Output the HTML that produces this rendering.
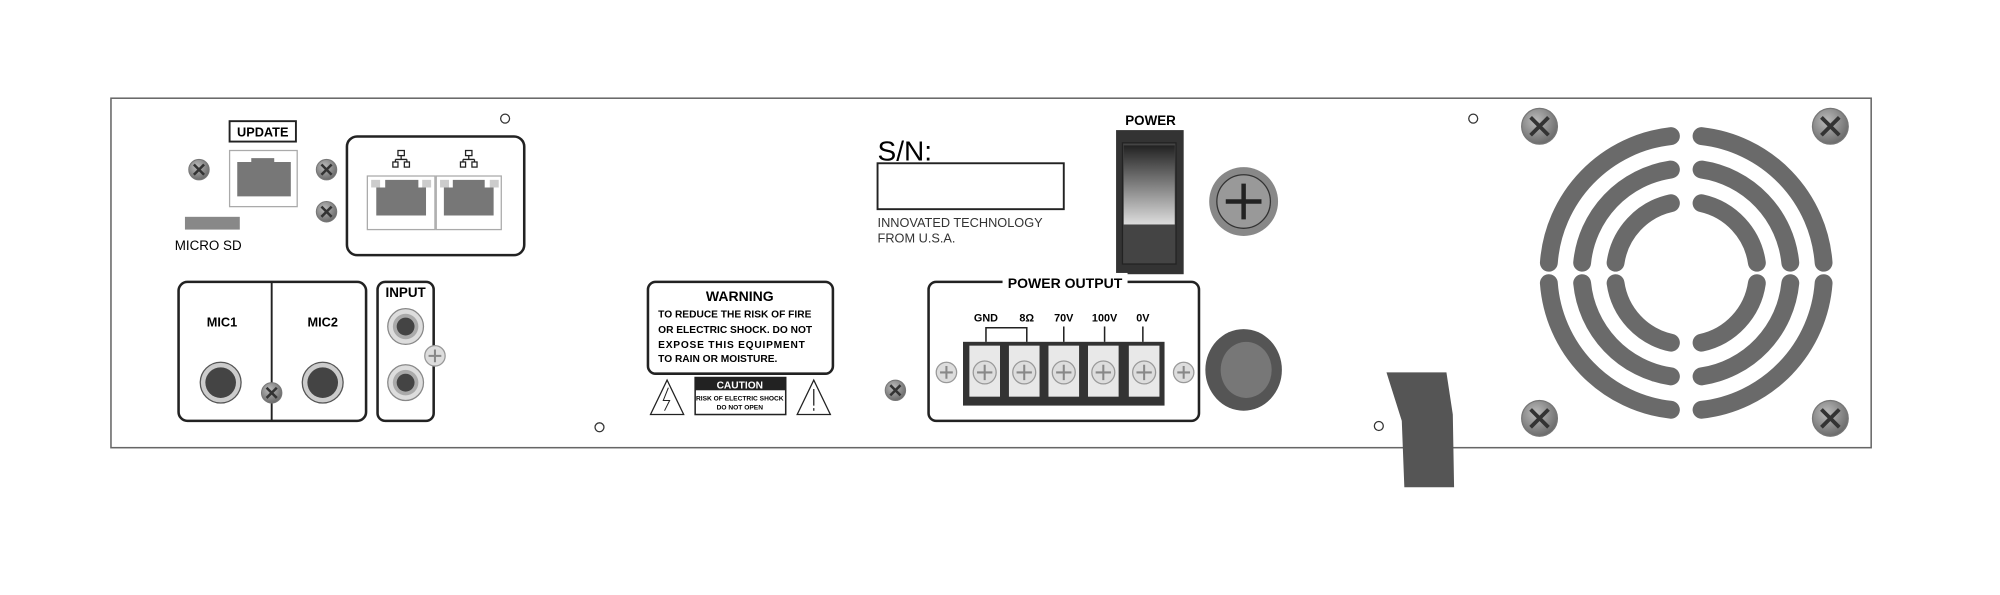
<!DOCTYPE html>
<html><head><meta charset="utf-8"><style>
html,body{margin:0;padding:0;background:#fff;}
svg{display:block;}
text{font-family:"Liberation Sans",sans-serif;}
</style></head><body>
<svg width="2000" height="595" viewBox="0 0 1568 466.5" preserveAspectRatio="none" xmlns="http://www.w3.org/2000/svg">
<defs>
<radialGradient id="sg" cx="40%" cy="35%" r="70%"><stop offset="0" stop-color="#bbb"/><stop offset="1" stop-color="#666"/></radialGradient>
<linearGradient id="sw" x1="0" y1="0" x2="0" y2="1"><stop offset="0" stop-color="#222"/><stop offset="1" stop-color="#ddd"/></linearGradient>
<g id="scr"><circle r="8" fill="url(#sg)" stroke="#777" stroke-width="0.8"/><path d="M-4,-4L4,4M4,-4L-4,4" stroke="#333" stroke-width="2"/></g>
<g id="bscr"><circle r="14" fill="url(#sg)" stroke="#777"/><path d="M-7,-7L7,7M7,-7L-7,7" stroke="#333" stroke-width="3"/></g>
<g id="pscr"><circle r="8" fill="#ddd" stroke="#999"/><path d="M-5,0H5M0,-5V5" stroke="#888" stroke-width="1.6"/></g>
<g id="term"><rect x="-12" y="-21" width="24" height="40" fill="#e8e8e8"/><circle r="9" fill="#ddd" stroke="#999"/><path d="M-6,0H6M0,-6V6" stroke="#888" stroke-width="1.6"/></g>
</defs>
<rect x="87" y="77" width="1380" height="274" fill="#fff" stroke="#666" stroke-width="1.2"/>

<!-- update -->
<rect x="180" y="95" width="52" height="16" fill="#fff" stroke="#222" stroke-width="1.5"/>
<text x="206" y="107" font-size="10" font-weight="bold" text-anchor="middle">UPDATE</text>
<rect x="180" y="118" width="53" height="44" fill="#fff" stroke="#aaa"/>
<path d="M186,127H197V124H215V127H228V154H186Z" fill="#777"/>
<use href="#scr" x="156" y="133"/><use href="#scr" x="256" y="133"/><use href="#scr" x="256" y="166"/>
<rect x="145" y="170" width="43" height="10" fill="#888"/>
<text x="137" y="196" font-size="10.5">MICRO SD</text>
<circle cx="396" cy="93" r="3.5" fill="none" stroke="#333"/>

<!-- network -->
<rect x="272" y="107" width="139" height="93" rx="8" fill="#fff" stroke="#222" stroke-width="2"/>
<rect x="288" y="138" width="53" height="42" fill="#fff" stroke="#aaa"/>
<rect x="342" y="138" width="51" height="42" fill="#fff" stroke="#aaa"/>
<path d="M295,147H302V141H328V147H334V169H295Z" fill="#777"/>
<path d="M348,147H355V141H380V147H387V169H348Z" fill="#777"/>
<rect x="291" y="141" width="7" height="6" fill="#ccc"/><rect x="331" y="141" width="7" height="6" fill="#ccc"/>
<rect x="345" y="141" width="7" height="6" fill="#ccc"/><rect x="384" y="141" width="7" height="6" fill="#ccc"/>
<g fill="none" stroke="#222" stroke-width="1"><rect x="312" y="118" width="5" height="4"/><path d="M314.5,122V125M310,125H319M310,125V127M319,125V127"/><rect x="308" y="127" width="4" height="4"/><rect x="317" y="127" width="4" height="4"/></g>
<g fill="none" stroke="#222" stroke-width="1" transform="translate(53,0)"><rect x="312" y="118" width="5" height="4"/><path d="M314.5,122V125M310,125H319M310,125V127M319,125V127"/><rect x="308" y="127" width="4" height="4"/><rect x="317" y="127" width="4" height="4"/></g>

<!-- mic -->
<rect x="140" y="221" width="147" height="109" rx="7" fill="#fff" stroke="#222" stroke-width="2"/>
<line x1="213" y1="221" x2="213" y2="330" stroke="#222" stroke-width="1.5"/>
<text x="174" y="256" font-size="10" font-weight="bold" text-anchor="middle">MIC1</text>
<text x="253" y="256" font-size="10" font-weight="bold" text-anchor="middle">MIC2</text>
<circle cx="173" cy="300" r="16" fill="#ccc" stroke="#555"/><circle cx="173" cy="300" r="12" fill="#444"/>
<circle cx="253" cy="300" r="16" fill="#ccc" stroke="#555"/><circle cx="253" cy="300" r="12" fill="#444"/>
<use href="#scr" x="213" y="308"/>

<!-- input -->
<rect x="296" y="221" width="44" height="109" rx="6" fill="#fff" stroke="#222" stroke-width="2"/>
<text x="318" y="233" font-size="10.5" font-weight="bold" text-anchor="middle">INPUT</text>
<circle cx="318" cy="256" r="14" fill="#ddd" stroke="#888"/><circle cx="318" cy="256" r="10" fill="#aaa"/><circle cx="318" cy="256" r="7" fill="#444"/>
<circle cx="318" cy="300" r="14" fill="#ddd" stroke="#888"/><circle cx="318" cy="300" r="10" fill="#aaa"/><circle cx="318" cy="300" r="7" fill="#444"/>
<use href="#pscr" x="341" y="279" transform="scale(1)"/>
<circle cx="470" cy="335" r="3.5" fill="none" stroke="#333"/>

<!-- warning -->
<rect x="508" y="221" width="145" height="72" rx="6" fill="#fff" stroke="#222" stroke-width="2"/>
<text x="580" y="236" font-size="11" font-weight="bold" text-anchor="middle">WARNING</text>
<g font-size="8" font-weight="bold"><text x="516" y="249">TO REDUCE THE RISK OF FIRE</text><text x="516" y="261">OR ELECTRIC SHOCK.  DO NOT</text><text x="516" y="273" letter-spacing="0.6">EXPOSE THIS  EQUIPMENT</text><text x="516" y="284">TO RAIN OR MOISTURE.</text></g>
<path d="M523,298L510,325H536Z" fill="#fff" stroke="#222"/><path d="M524,304L520,314H525L521,322" fill="none" stroke="#222" stroke-width="0.8"/>
<rect x="545" y="296" width="71" height="29" fill="#fff" stroke="#222" stroke-width="1.2"/>
<rect x="545" y="296" width="71" height="10" fill="#222"/>
<text x="580" y="304.5" font-size="8" font-weight="bold" fill="#fff" text-anchor="middle">CAUTION</text>
<text x="580" y="314" font-size="5.2" font-weight="bold" text-anchor="middle">RISK OF ELECTRIC SHOCK</text>
<text x="580" y="321" font-size="5.2" font-weight="bold" text-anchor="middle">DO NOT OPEN</text>
<path d="M638,298L625,325H651Z" fill="#fff" stroke="#222"/><path d="M638,305V318M638,320V322" stroke="#222"/>
<use href="#scr" x="702" y="306"/>

<!-- S/N -->
<text x="688" y="126" font-size="22">S/N:</text>
<rect x="688" y="128" width="146" height="36" fill="#fff" stroke="#222" stroke-width="1.5"/>
<text x="688" y="178" font-size="10" fill="#333">INNOVATED TECHNOLOGY</text>
<text x="688" y="190" font-size="10" fill="#333">FROM U.S.A.</text>

<!-- power switch -->
<text x="902" y="98" font-size="10.5" font-weight="bold" text-anchor="middle">POWER</text>
<rect x="875" y="102" width="53" height="113" fill="#333"/>
<rect x="880" y="112" width="42" height="95" fill="#444" stroke="#222"/>
<rect x="881" y="114" width="40" height="62" fill="url(#sw)"/>
<circle cx="975" cy="158" r="27" fill="#888"/><circle cx="975" cy="158" r="21" fill="#999" stroke="#333" stroke-width="1"/>
<path d="M961,158H989M975,144V172" stroke="#222" stroke-width="3.5"/>

<!-- power output -->
<rect x="728" y="221" width="212" height="109" rx="6" fill="#fff" stroke="#222" stroke-width="2"/>
<rect x="786" y="214" width="98" height="14" fill="#fff"/>
<text x="835" y="226" font-size="11" font-weight="bold" text-anchor="middle">POWER OUTPUT</text>
<g font-size="8.5" font-weight="bold" text-anchor="middle"><text x="773" y="252">GND</text><text x="805" y="252">8Ω</text><text x="834" y="252">70V</text><text x="866" y="252">100V</text><text x="896" y="252">0V</text></g>
<path d="M773,268V257H805V268M834,256V268M866,256V268M896,256V268" fill="none" stroke="#222" stroke-width="1.2"/>
<rect x="755" y="268" width="158" height="50" fill="#333"/>
<use href="#term" x="772" y="292"/><use href="#term" x="803" y="292"/><use href="#term" x="834" y="292"/><use href="#term" x="865" y="292"/><use href="#term" x="897" y="292"/>
<use href="#pscr" x="742" y="292"/><use href="#pscr" x="928" y="292"/>
<ellipse cx="975" cy="290" rx="30" ry="32" fill="#555"/><ellipse cx="977" cy="290" rx="20" ry="22" fill="#777"/>

<circle cx="1155" cy="93" r="3.5" fill="none" stroke="#333"/>
<circle cx="1081" cy="334" r="3.5" fill="none" stroke="#333"/>
<path d="M1087,292H1134L1139,325L1140,382H1101L1099,330Z" fill="#555"/>

<!-- fan -->
<use href="#bscr" x="1207" y="99"/><use href="#bscr" x="1435" y="99"/><use href="#bscr" x="1207" y="328"/><use href="#bscr" x="1435" y="328"/>
<g fill="none" stroke="#6a6a6a" stroke-width="14" stroke-linecap="round">
<path d="M1310,106.7A108,108 0 0 0 1214.3,206"/><path d="M1334,106.7A108,108 0 0 1 1429.7,206"/>
<path d="M1214.3,222A108,108 0 0 0 1310,321.3"/><path d="M1334,321.3A108,108 0 0 0 1429.7,222"/>
<path d="M1310,132.9A82,82 0 0 0 1240.4,206"/><path d="M1334,132.9A82,82 0 0 1 1403.6,206"/>
<path d="M1240.4,222A82,82 0 0 0 1310,295.1"/><path d="M1334,295.1A82,82 0 0 0 1403.6,222"/>
<path d="M1310,159.3A56,56 0 0 0 1266.6,206"/><path d="M1334,159.3A56,56 0 0 1 1377.4,206"/>
<path d="M1266.6,222A56,56 0 0 0 1310,268.7"/><path d="M1334,268.7A56,56 0 0 0 1377.4,222"/>
</g>
</svg>
</body></html>
